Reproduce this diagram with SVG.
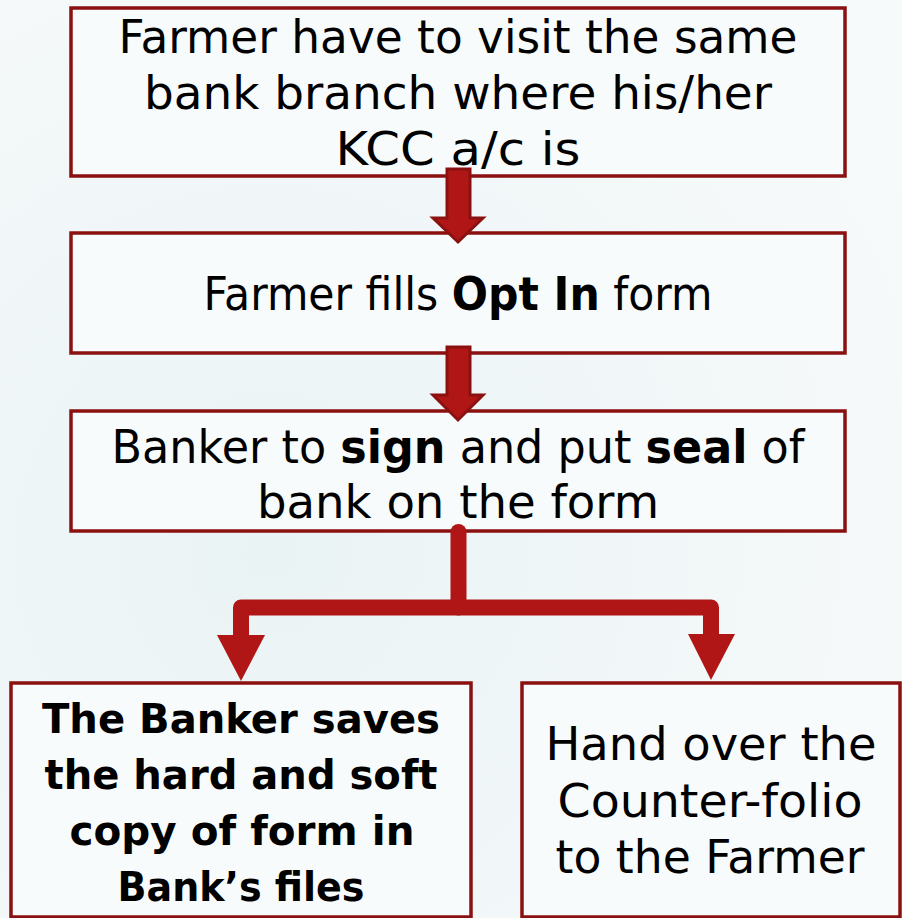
<svg xmlns="http://www.w3.org/2000/svg" width="902" height="918" viewBox="0 0 902 918">
<defs>
<radialGradient id="bg" cx="0.3" cy="0.6" r="0.8">
<stop offset="0" stop-color="#EAF3F4"/>
<stop offset="1" stop-color="#F7FAFB"/>
</radialGradient>
<style>
.box{fill:#F8FBFC;stroke:#8B1111;stroke-width:3.5}
.t{font-family:"DejaVu Sans",sans-serif;font-size:46px;fill:#000;text-anchor:middle}
.b{font-weight:bold}
.s{font-size:40px}
.blk{fill:#B01616;stroke:#8B1111;stroke-width:3;stroke-linejoin:miter}
.ln{fill:none;stroke:#B01616;stroke-width:16;stroke-linejoin:round;stroke-linecap:round}
.hd{fill:#B01616}
</style>
</defs>
<rect width="902" height="918" fill="url(#bg)"/>
<g id="node1">
<rect class="box" x="71" y="8" width="774" height="168"/>
<text class="t" x="458" y="53" textLength="679" lengthAdjust="spacingAndGlyphs">Farmer have to visit the same</text>
<text class="t" x="458" y="109" textLength="628" lengthAdjust="spacingAndGlyphs">bank branch where his/her</text>
<text class="t" x="458" y="165" textLength="245" lengthAdjust="spacingAndGlyphs">KCC a/c is</text>
</g>
<g id="node2">
<rect class="box" x="71" y="233" width="774" height="120"/>
<text class="t" x="458" y="310" textLength="509" lengthAdjust="spacingAndGlyphs">Farmer fills <tspan class="b">Opt In</tspan> form</text>
</g>
<g id="node3">
<rect class="box" x="71" y="411" width="774" height="120"/>
<text class="t" x="458" y="463" textLength="693" lengthAdjust="spacingAndGlyphs">Banker to <tspan class="b">sign</tspan> and put <tspan class="b">seal</tspan> of</text>
<text class="t" x="458" y="518" textLength="402" lengthAdjust="spacingAndGlyphs">bank on the form</text>
</g>
<g id="node4">
<rect class="box" x="11" y="683" width="460" height="234"/>
<text class="t b s" x="241" y="733" textLength="398" lengthAdjust="spacingAndGlyphs">The Banker saves</text>
<text class="t b s" x="241" y="789" textLength="393" lengthAdjust="spacingAndGlyphs">the hard and soft</text>
<text class="t b s" x="242" y="845" textLength="345" lengthAdjust="spacingAndGlyphs">copy of form in</text>
<text class="t b s" x="241" y="901" textLength="247" lengthAdjust="spacingAndGlyphs">Bank’s files</text>
</g>
<g id="node5">
<rect class="box" x="522" y="683" width="378" height="234"/>
<text class="t" x="711" y="760" textLength="331" lengthAdjust="spacingAndGlyphs">Hand over the</text>
<text class="t" x="710" y="817" textLength="305" lengthAdjust="spacingAndGlyphs">Counter-folio</text>
<text class="t" x="710" y="873" textLength="309" lengthAdjust="spacingAndGlyphs">to the Farmer</text>
</g>
<g id="connectors">
<polygon class="blk" points="447,169 470,169 470,218 483,218 458,242 433,218 447,218"/>
<polygon class="blk" points="447,347 470,347 470,395 483,395 458,420 433,395 447,395"/>
<path class="ln" d="M458.5 532 V607.5"/>
<path class="ln" style="stroke-linecap:butt" d="M241 637 V607.5 H711 V637"/>
<polygon class="hd" points="217,635 265,635 241,681"/>
<polygon class="hd" points="688,634 735,634 711,680"/>
</g>
</svg>
